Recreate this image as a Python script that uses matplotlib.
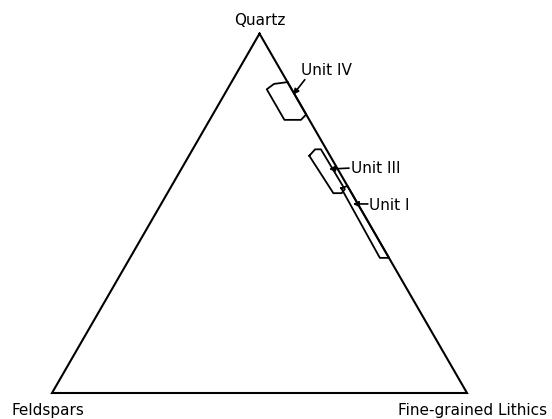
import numpy as np
import matplotlib
matplotlib.use("Agg")
import matplotlib.pyplot as plt

# Compositions as percentages of (Quartz, Feldspars, Fine-grained Lithics)
apices = ["Quartz", "Feldspars", "Fine-grained Lithics"]

unit_iv_q = [86.5, 86.0, 84.5, 76.0, 76.0, 77.5]
unit_iv_f = [0.0, 3.5, 6.0, 6.0, 2.0, 0.0]
unit_iv_l = [13.5, 10.5, 9.5, 18.0, 22.0, 22.5]

unit_iii_q = [66.0, 67.8, 67.8, 56.7, 55.6, 55.6]
unit_iii_f = [5.0, 2.7, 1.3, 1.1, 2.4, 4.4]
unit_iii_l = [29.0, 29.5, 30.9, 42.2, 42.0, 40.0]

unit_i_q = [57.0, 57.6, 37.6, 37.6]
unit_i_f = [1.8, 0.0, 0.0, 2.2]
unit_i_l = [41.2, 42.4, 62.4, 60.2]

labels = ["Unit IV", "Unit III", "Unit I"]
# point each label's arrow touches (Q, F, L)
label_tips = [(83.0, 0.4, 16.6), (62.3, 2.1, 35.6), (52.6, 1.2, 46.2)]


def tern(q, f, l):
    q = np.asarray(q, float)
    f = np.asarray(f, float)
    l = np.asarray(l, float)
    tot = q + f + l
    q, l = q / tot, l / tot
    return l + q / 2, q * np.sqrt(3) / 2


fig = plt.figure(figsize=(5.52, 4.19), dpi=100)
ax = fig.add_axes([52 / 552, 26 / 419, 415 / 552, 359.4 / 419])
ax.set_xlim(0, 1)
ax.set_ylim(0, np.sqrt(3) / 2)
ax.axis("off")

# triangle outline
tx, ty = tern([100, 0, 0, 100], [0, 100, 0, 0], [0, 0, 100, 0])
ax.plot(tx, ty, color="black", lw=1.5, clip_on=False, solid_joinstyle="miter")

# unit fields
for q, f, l in [(unit_iv_q, unit_iv_f, unit_iv_l),
                (unit_iii_q, unit_iii_f, unit_iii_l),
                (unit_i_q, unit_i_f, unit_i_l)]:
    px, py = tern(q + q[:1], f + f[:1], l + l[:1])
    ax.plot(px, py, color="black", lw=1.3, solid_joinstyle="round")

# apex labels
font = dict(family="DejaVu Sans", fontsize=11, color="black")
ax.annotate(apices[0], xy=(tx[0], ty[0]), xytext=(0, 6), textcoords="offset points",
            ha="center", va="baseline", **font)
ax.annotate(apices[1], xy=(tx[1], ty[1]), xytext=(-29, -16), textcoords="offset points",
            ha="left", va="baseline", **font)
ax.annotate(apices[2], xy=(tx[2], ty[2]), xytext=(58, -16), textcoords="offset points",
            ha="right", va="baseline", **font)

# unit labels with arrows
tails = [(8.4, 10.8), (14.4, 0.7), (10.8, 0.0)]
text_off = [(5.5, 17.3), (15.8, 0.7), (11.5, -1.4)]
arrow = dict(arrowstyle="-|>", color="black", lw=1.2, mutation_scale=8,
             shrinkA=0, shrinkB=0)
for name, tip, tail, toff in zip(labels, label_tips, tails, text_off):
    x0, y0 = tern(*tip)
    ax.annotate("", xy=(x0, y0), xytext=tail, textcoords="offset points",
                arrowprops=arrow)
    ax.annotate(name, xy=(x0, y0), xytext=toff, textcoords="offset points",
                ha="left", va="center", **font)

fig.savefig("out.png", dpi=100)
